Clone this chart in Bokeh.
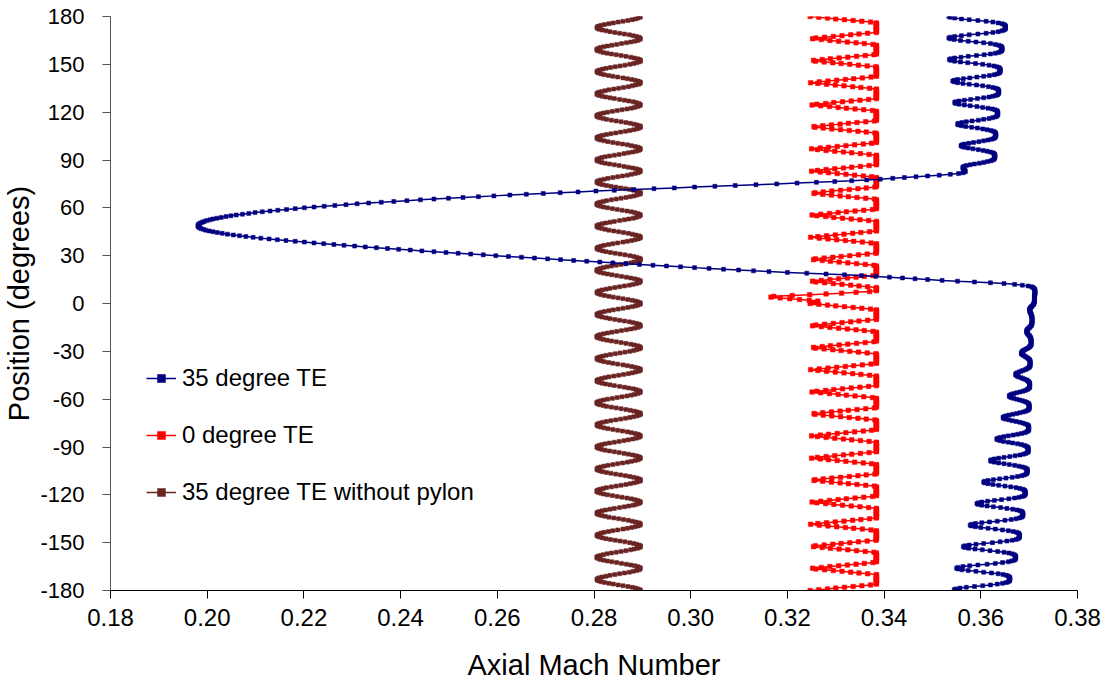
import numpy as np
from bokeh.plotting import figure
from bokeh.models import (ColumnDataSource, FixedTicker, Legend, LegendItem,
                          NumeralTickFormatter, Range1d)
from bokeh.embed import file_html
from bokeh.resources import INLINE

# Circumferential survey stations, every half degree from +180 down to -180
position = np.linspace(180.0, -180.0, 721)

x_ticks = [0.18, 0.20, 0.22, 0.24, 0.26, 0.28, 0.30, 0.32, 0.34, 0.36, 0.38]
y_ticks = [-180, -150, -120, -90, -60, -30, 0, 30, 60, 90, 120, 150, 180]

series_labels = ["35 degree TE", "0 degree TE", "35 degree TE without pylon"]

# 35 degree TE: upper blade-passage ripple (180 .. 85.5 deg)
te35_upper = [
    0.3534, 0.3537, 0.3546, 0.3560, 0.3576, 0.3594, 0.3611, 0.3625, 0.3636, 0.3644, 0.3648, 0.3650, 0.3651, 0.3651, 0.3651, 0.3651, 0.3650, 0.3648, 0.3644, 0.3636, 0.3625, 0.3611, 0.3594, 0.3576, 0.3560, 0.3546, 0.3537,
    0.3534, 0.3537, 0.3545, 0.3558, 0.3574, 0.3590, 0.3606, 0.3620, 0.3630, 0.3637, 0.3641, 0.3643, 0.3644, 0.3644, 0.3644, 0.3644, 0.3643, 0.3641, 0.3637, 0.3630, 0.3620, 0.3607, 0.3591, 0.3574, 0.3559, 0.3546, 0.3538,
    0.3535, 0.3538, 0.3546, 0.3558, 0.3573, 0.3589, 0.3604, 0.3617, 0.3627, 0.3633, 0.3637, 0.3639, 0.3640, 0.3640, 0.3640, 0.3640, 0.3639, 0.3638, 0.3634, 0.3628, 0.3618, 0.3606, 0.3592, 0.3577, 0.3564, 0.3552, 0.3545,
    0.3542, 0.3545, 0.3552, 0.3563, 0.3576, 0.3591, 0.3604, 0.3616, 0.3625, 0.3631, 0.3635, 0.3636, 0.3637, 0.3637, 0.3637, 0.3637, 0.3636, 0.3635, 0.3631, 0.3625, 0.3617, 0.3606, 0.3593, 0.3579, 0.3566, 0.3555, 0.3548,
    0.3546, 0.3548, 0.3555, 0.3566, 0.3578, 0.3592, 0.3604, 0.3615, 0.3624, 0.3629, 0.3633, 0.3634, 0.3635, 0.3635, 0.3635, 0.3635, 0.3634, 0.3633, 0.3630, 0.3624, 0.3617, 0.3606, 0.3595, 0.3582, 0.3570, 0.3561, 0.3554,
    0.3552, 0.3554, 0.3560, 0.3569, 0.3581, 0.3593, 0.3604, 0.3613, 0.3621, 0.3626, 0.3629, 0.3630, 0.3631, 0.3631, 0.3631, 0.3631, 0.3630, 0.3629, 0.3627, 0.3622, 0.3615, 0.3606, 0.3596, 0.3585, 0.3575, 0.3566, 0.3561,
    0.3559, 0.3561, 0.3566, 0.3574, 0.3584, 0.3595, 0.3605, 0.3613, 0.3620, 0.3625, 0.3627, 0.3629, 0.3629, 0.3629, 0.3629, 0.3629, 0.3628, 0.3627, 0.3625, 0.3621, 0.3614, 0.3606, 0.3597, 0.3587, 0.3578, 0.3570, 0.3565,
    0.3563,
]

# 35 degree TE: pylon wake excursion (85 .. 2.5 deg)
te35_wake = [
    0.3563, 0.3564, 0.3565, 0.3567, 0.3568, 0.3567, 0.3563, 0.3554, 0.3537, 0.3514,
    0.3490, 0.3466, 0.3442, 0.3418, 0.3392, 0.3364, 0.3333, 0.3298, 0.3260, 0.3220,
    0.3178, 0.3135, 0.3092, 0.3050, 0.3008, 0.2966, 0.2924, 0.2882, 0.2842, 0.2804,
    0.2767, 0.2730, 0.2695, 0.2660, 0.2626, 0.2593, 0.2561, 0.2529, 0.2499, 0.2469,
    0.2441, 0.2413, 0.2386, 0.2360, 0.2334, 0.2310, 0.2287, 0.2264, 0.2242, 0.2221,
    0.2201, 0.2182, 0.2164, 0.2146, 0.2130, 0.2114, 0.2099, 0.2086, 0.2073, 0.2060,
    0.2049, 0.2039, 0.2029, 0.2020, 0.2012, 0.2006, 0.1999, 0.1994, 0.1990, 0.1986,
    0.1984, 0.1982, 0.1981, 0.1981, 0.1982, 0.1984, 0.1987, 0.1992, 0.1997, 0.2004,
    0.2012, 0.2021, 0.2031, 0.2042, 0.2054, 0.2067, 0.2080, 0.2095, 0.2111, 0.2128,
    0.2145, 0.2163, 0.2182, 0.2201, 0.2221, 0.2241, 0.2262, 0.2283, 0.2305, 0.2327,
    0.2350, 0.2373, 0.2396, 0.2420, 0.2444, 0.2469, 0.2494, 0.2519, 0.2545, 0.2571,
    0.2597, 0.2623, 0.2650, 0.2677, 0.2704, 0.2731, 0.2758, 0.2785, 0.2812, 0.2839,
    0.2866, 0.2894, 0.2922, 0.2950, 0.2979, 0.3008, 0.3038, 0.3068, 0.3099, 0.3130,
    0.3162, 0.3200, 0.3240, 0.3280, 0.3318, 0.3353, 0.3383, 0.3411, 0.3438, 0.3464,
    0.3490, 0.3520, 0.3552, 0.3587, 0.3620, 0.3648, 0.3670, 0.3686, 0.3698, 0.3705,
    0.3708, 0.3710, 0.3711, 0.3712, 0.3712, 0.3712, 0.3712, 0.3712, 0.3712, 0.3712,
    0.3711, 0.3711, 0.3711, 0.3711, 0.3711, 0.3711,
]

# 35 degree TE: lower ripple with growing amplitude (2 .. -180 deg)
te35_lower = [
    0.3711, 0.3711, 0.3711, 0.3710, 0.3710, 0.3709, 0.3708, 0.3706, 0.3705, 0.3703, 0.3702, 0.3701,
    0.3701, 0.3701, 0.3702, 0.3702, 0.3703, 0.3704, 0.3704, 0.3705, 0.3705, 0.3706, 0.3706, 0.3706, 0.3706, 0.3706, 0.3706, 0.3706, 0.3706, 0.3706, 0.3705, 0.3705, 0.3704, 0.3702, 0.3701, 0.3699, 0.3697, 0.3696, 0.3695,
    0.3695, 0.3695, 0.3696, 0.3697, 0.3698, 0.3700, 0.3701, 0.3702, 0.3703, 0.3703, 0.3704, 0.3704, 0.3704, 0.3704, 0.3704, 0.3704, 0.3704, 0.3704, 0.3703, 0.3701, 0.3700, 0.3697, 0.3694, 0.3691, 0.3688, 0.3686, 0.3685,
    0.3684, 0.3684, 0.3686, 0.3688, 0.3691, 0.3693, 0.3696, 0.3698, 0.3700, 0.3701, 0.3702, 0.3702, 0.3702, 0.3702, 0.3702, 0.3702, 0.3702, 0.3701, 0.3700, 0.3698, 0.3695, 0.3692, 0.3687, 0.3683, 0.3679, 0.3675, 0.3673,
    0.3672, 0.3673, 0.3675, 0.3678, 0.3683, 0.3687, 0.3691, 0.3695, 0.3697, 0.3699, 0.3700, 0.3701, 0.3701, 0.3701, 0.3701, 0.3701, 0.3701, 0.3700, 0.3698, 0.3696, 0.3692, 0.3687, 0.3681, 0.3674, 0.3668, 0.3663, 0.3660,
    0.3659, 0.3660, 0.3663, 0.3668, 0.3674, 0.3680, 0.3686, 0.3691, 0.3695, 0.3698, 0.3699, 0.3700, 0.3700, 0.3700, 0.3700, 0.3700, 0.3700, 0.3699, 0.3697, 0.3693, 0.3688, 0.3681, 0.3674, 0.3666, 0.3658, 0.3652, 0.3648,
    0.3646, 0.3647, 0.3651, 0.3658, 0.3665, 0.3673, 0.3681, 0.3687, 0.3692, 0.3696, 0.3698, 0.3699, 0.3699, 0.3699, 0.3699, 0.3699, 0.3699, 0.3697, 0.3695, 0.3691, 0.3684, 0.3676, 0.3667, 0.3657, 0.3648, 0.3640, 0.3635,
    0.3633, 0.3635, 0.3640, 0.3647, 0.3657, 0.3666, 0.3676, 0.3684, 0.3690, 0.3694, 0.3696, 0.3698, 0.3698, 0.3698, 0.3698, 0.3698, 0.3698, 0.3696, 0.3693, 0.3688, 0.3681, 0.3671, 0.3660, 0.3648, 0.3637, 0.3628, 0.3622,
    0.3620, 0.3622, 0.3628, 0.3637, 0.3648, 0.3659, 0.3670, 0.3679, 0.3686, 0.3691, 0.3694, 0.3696, 0.3696, 0.3696, 0.3696, 0.3696, 0.3695, 0.3694, 0.3690, 0.3685, 0.3676, 0.3665, 0.3652, 0.3639, 0.3626, 0.3615, 0.3608,
    0.3606, 0.3608, 0.3615, 0.3625, 0.3637, 0.3650, 0.3662, 0.3673, 0.3681, 0.3687, 0.3690, 0.3691, 0.3692, 0.3692, 0.3692, 0.3692, 0.3691, 0.3690, 0.3686, 0.3679, 0.3670, 0.3658, 0.3643, 0.3628, 0.3614, 0.3602, 0.3595,
    0.3592, 0.3595, 0.3602, 0.3613, 0.3626, 0.3641, 0.3654, 0.3666, 0.3675, 0.3681, 0.3685, 0.3686, 0.3687, 0.3687, 0.3687, 0.3687, 0.3686, 0.3684, 0.3680, 0.3673, 0.3663, 0.3650, 0.3634, 0.3618, 0.3602, 0.3589, 0.3581,
    0.3578, 0.3581, 0.3589, 0.3600, 0.3615, 0.3630, 0.3645, 0.3657, 0.3667, 0.3674, 0.3678, 0.3679, 0.3680, 0.3680, 0.3680, 0.3680, 0.3679, 0.3677, 0.3673, 0.3665, 0.3654, 0.3640, 0.3624, 0.3606, 0.3590, 0.3576, 0.3567,
    0.3564, 0.3567, 0.3575, 0.3588, 0.3603, 0.3619, 0.3635, 0.3648, 0.3658, 0.3665, 0.3669, 0.3671, 0.3672, 0.3672, 0.3672, 0.3672, 0.3671, 0.3669, 0.3664, 0.3657, 0.3645, 0.3630, 0.3613, 0.3594, 0.3577, 0.3563, 0.3553,
    0.3550, 0.3553, 0.3561, 0.3574, 0.3590, 0.3606, 0.3622, 0.3636, 0.3646, 0.3653, 0.3657, 0.3659, 0.3660, 0.3660, 0.3660, 0.3660, 0.3659, 0.3657, 0.3653, 0.3645, 0.3634, 0.3620, 0.3604, 0.3587, 0.3570, 0.3557, 0.3548,
    0.3545, 0.3548,
]

mach_35_te = te35_upper + te35_wake + te35_lower

mach_0_te = [
    0.3247, 0.3265, 0.3283, 0.3300, 0.3318, 0.3336, 0.3354, 0.3372, 0.3384, 0.3384, 0.3384, 0.3384, 0.3384, 0.3384, 0.3384, 0.3384, 0.3384, 0.3384, 0.3384, 0.3384, 0.3384, 0.3366, 0.3348, 0.3331, 0.3313, 0.3295, 0.3277, 0.3259,
    0.3252, 0.3270, 0.3288, 0.3306, 0.3324, 0.3342, 0.3359, 0.3377, 0.3384, 0.3384, 0.3384, 0.3384, 0.3384, 0.3384, 0.3384, 0.3384, 0.3384, 0.3384, 0.3384, 0.3384, 0.3379, 0.3361, 0.3343, 0.3325, 0.3307, 0.3289, 0.3272, 0.3254,
    0.3258, 0.3276, 0.3294, 0.3311, 0.3329, 0.3347, 0.3365, 0.3383, 0.3384, 0.3384, 0.3384, 0.3384, 0.3384, 0.3384, 0.3384, 0.3384, 0.3384, 0.3384, 0.3384, 0.3384, 0.3373, 0.3355, 0.3337, 0.3320, 0.3302, 0.3284, 0.3266, 0.3248,
    0.3263, 0.3281, 0.3299, 0.3317, 0.3335, 0.3352, 0.3370, 0.3384, 0.3384, 0.3384, 0.3384, 0.3384, 0.3384, 0.3384, 0.3384, 0.3384, 0.3384, 0.3384, 0.3384, 0.3384, 0.3368, 0.3350, 0.3332, 0.3314, 0.3296, 0.3279, 0.3261,
    0.3251, 0.3269, 0.3287, 0.3305, 0.3322, 0.3340, 0.3358, 0.3376, 0.3384, 0.3384, 0.3384, 0.3384, 0.3384, 0.3384, 0.3384, 0.3384, 0.3384, 0.3384, 0.3384, 0.3384, 0.3380, 0.3362, 0.3344, 0.3326, 0.3309, 0.3291, 0.3273, 0.3255,
    0.3257, 0.3274, 0.3292, 0.3310, 0.3328, 0.3346, 0.3363, 0.3381, 0.3384, 0.3384, 0.3384, 0.3384, 0.3384, 0.3384, 0.3384, 0.3384, 0.3384, 0.3384, 0.3384, 0.3384, 0.3374, 0.3357, 0.3339, 0.3321, 0.3303, 0.3285, 0.3268, 0.3250,
    0.3262, 0.3280, 0.3298, 0.3316, 0.3333, 0.3351, 0.3369, 0.3384, 0.3384, 0.3384, 0.3384, 0.3384, 0.3384, 0.3384, 0.3384, 0.3384, 0.3384, 0.3384, 0.3384, 0.3384, 0.3369, 0.3351, 0.3333, 0.3316, 0.3298, 0.3280, 0.3262,
    0.3250, 0.3268, 0.3285, 0.3303, 0.3321, 0.3339, 0.3357, 0.3374, 0.3384, 0.3384, 0.3384, 0.3384, 0.3384, 0.3384, 0.3384, 0.3384, 0.3384, 0.3384, 0.3384, 0.3384, 0.3381, 0.3363, 0.3346, 0.3328, 0.3310, 0.3292, 0.3274, 0.3257,
    0.3255, 0.3273, 0.3291, 0.3309, 0.3326, 0.3344, 0.3362, 0.3380, 0.3384, 0.3384, 0.3384, 0.3384, 0.3384, 0.3384, 0.3384, 0.3384, 0.3384, 0.3384, 0.3384, 0.3384, 0.3376, 0.3358, 0.3340, 0.3322, 0.3305, 0.3287, 0.3269, 0.3251,
    0.3261, 0.3279, 0.3296, 0.3314, 0.3332, 0.3350, 0.3368, 0.3384, 0.3384, 0.3384, 0.3384, 0.3384, 0.3384, 0.3384, 0.3384, 0.3384, 0.3384, 0.3384, 0.3384, 0.3384, 0.3370, 0.3352, 0.3335, 0.3317, 0.3299, 0.3281, 0.3263,
    0.3248, 0.3266, 0.3284, 0.3302, 0.3320, 0.3337, 0.3355, 0.3373, 0.3384, 0.3384, 0.3384, 0.3384, 0.3384, 0.3384, 0.3384, 0.3384, 0.3384, 0.3384, 0.3384, 0.3384, 0.3383, 0.3365, 0.3347, 0.3329, 0.3311, 0.3294, 0.3276, 0.3258,
    0.3254, 0.3272, 0.3289, 0.3307, 0.3325, 0.3343, 0.3361, 0.3379, 0.3384, 0.3384, 0.3384, 0.3384, 0.3384, 0.3384, 0.3384, 0.3384, 0.3384, 0.3384, 0.3384, 0.3384, 0.3377, 0.3359, 0.3342, 0.3324, 0.3306, 0.3288, 0.3270, 0.3252,
    0.3259, 0.3277, 0.3295, 0.3313, 0.3331, 0.3348, 0.3366, 0.3384, 0.3384, 0.3384, 0.3384, 0.3384, 0.3370, 0.3342, 0.3312, 0.3280, 0.3246, 0.3210, 0.3172, 0.3166, 0.3185, 0.3205, 0.3225, 0.3245, 0.3263, 0.3262, 0.3255,
    0.3247, 0.3265, 0.3283, 0.3300, 0.3318, 0.3336, 0.3354, 0.3372, 0.3384, 0.3384, 0.3384, 0.3384, 0.3384, 0.3384, 0.3384, 0.3384, 0.3384, 0.3384, 0.3384, 0.3384, 0.3384, 0.3366, 0.3348, 0.3331, 0.3313, 0.3295, 0.3277, 0.3259,
    0.3252, 0.3270, 0.3288, 0.3306, 0.3324, 0.3342, 0.3359, 0.3377, 0.3384, 0.3384, 0.3384, 0.3384, 0.3384, 0.3384, 0.3384, 0.3384, 0.3384, 0.3384, 0.3384, 0.3384, 0.3379, 0.3361, 0.3343, 0.3325, 0.3307, 0.3289, 0.3272, 0.3254,
    0.3258, 0.3276, 0.3294, 0.3311, 0.3329, 0.3347, 0.3365, 0.3383, 0.3384, 0.3384, 0.3384, 0.3384, 0.3384, 0.3384, 0.3384, 0.3384, 0.3384, 0.3384, 0.3384, 0.3384, 0.3373, 0.3355, 0.3337, 0.3320, 0.3302, 0.3284, 0.3266, 0.3248,
    0.3263, 0.3281, 0.3299, 0.3317, 0.3335, 0.3352, 0.3370, 0.3384, 0.3384, 0.3384, 0.3384, 0.3384, 0.3384, 0.3384, 0.3384, 0.3384, 0.3384, 0.3384, 0.3384, 0.3384, 0.3368, 0.3350, 0.3332, 0.3314, 0.3296, 0.3279, 0.3261,
    0.3251, 0.3269, 0.3287, 0.3305, 0.3322, 0.3340, 0.3358, 0.3376, 0.3384, 0.3384, 0.3384, 0.3384, 0.3384, 0.3384, 0.3384, 0.3384, 0.3384, 0.3384, 0.3384, 0.3384, 0.3380, 0.3362, 0.3344, 0.3326, 0.3309, 0.3291, 0.3273, 0.3255,
    0.3257, 0.3274, 0.3292, 0.3310, 0.3328, 0.3346, 0.3363, 0.3381, 0.3384, 0.3384, 0.3384, 0.3384, 0.3384, 0.3384, 0.3384, 0.3384, 0.3384, 0.3384, 0.3384, 0.3384, 0.3374, 0.3357, 0.3339, 0.3321, 0.3303, 0.3285, 0.3268, 0.3250,
    0.3262, 0.3280, 0.3298, 0.3316, 0.3333, 0.3351, 0.3369, 0.3384, 0.3384, 0.3384, 0.3384, 0.3384, 0.3384, 0.3384, 0.3384, 0.3384, 0.3384, 0.3384, 0.3384, 0.3384, 0.3369, 0.3351, 0.3333, 0.3316, 0.3298, 0.3280, 0.3262,
    0.3250, 0.3268, 0.3285, 0.3303, 0.3321, 0.3339, 0.3357, 0.3374, 0.3384, 0.3384, 0.3384, 0.3384, 0.3384, 0.3384, 0.3384, 0.3384, 0.3384, 0.3384, 0.3384, 0.3384, 0.3381, 0.3363, 0.3346, 0.3328, 0.3310, 0.3292, 0.3274, 0.3257,
    0.3255, 0.3273, 0.3291, 0.3309, 0.3326, 0.3344, 0.3362, 0.3380, 0.3384, 0.3384, 0.3384, 0.3384, 0.3384, 0.3384, 0.3384, 0.3384, 0.3384, 0.3384, 0.3384, 0.3384, 0.3376, 0.3358, 0.3340, 0.3322, 0.3305, 0.3287, 0.3269, 0.3251,
    0.3261, 0.3279, 0.3296, 0.3314, 0.3332, 0.3350, 0.3368, 0.3384, 0.3384, 0.3384, 0.3384, 0.3384, 0.3384, 0.3384, 0.3384, 0.3384, 0.3384, 0.3384, 0.3384, 0.3384, 0.3370, 0.3352, 0.3335, 0.3317, 0.3299, 0.3281, 0.3263,
    0.3248, 0.3266, 0.3284, 0.3302, 0.3320, 0.3337, 0.3355, 0.3373, 0.3384, 0.3384, 0.3384, 0.3384, 0.3384, 0.3384, 0.3384, 0.3384, 0.3384, 0.3384, 0.3384, 0.3384, 0.3383, 0.3365, 0.3347, 0.3329, 0.3311, 0.3294, 0.3276, 0.3258,
    0.3254, 0.3272, 0.3289, 0.3307, 0.3325, 0.3343, 0.3361, 0.3379, 0.3384, 0.3384, 0.3384, 0.3384, 0.3384, 0.3384, 0.3384, 0.3384, 0.3384, 0.3384, 0.3384, 0.3384, 0.3377, 0.3359, 0.3342, 0.3324, 0.3306, 0.3288, 0.3270, 0.3252,
    0.3259, 0.3277, 0.3295, 0.3313, 0.3331, 0.3348, 0.3366, 0.3384, 0.3384, 0.3384, 0.3384, 0.3384, 0.3384, 0.3384, 0.3384, 0.3384, 0.3384, 0.3384, 0.3384, 0.3384, 0.3372, 0.3354, 0.3336, 0.3318, 0.3300, 0.3283, 0.3265,
    0.3247,
]

mach_35_te_no_pylon = [
    0.2896, 0.2895, 0.2891, 0.2886, 0.2879, 0.2870, 0.2860, 0.2850, 0.2840, 0.2831, 0.2822, 0.2815, 0.2810, 0.2807, 0.2806, 0.2808, 0.2811, 0.2817, 0.2825, 0.2833, 0.2843, 0.2853, 0.2863, 0.2873, 0.2881, 0.2888, 0.2893, 0.2895,
    0.2896, 0.2894, 0.2890, 0.2884, 0.2876, 0.2867, 0.2857, 0.2847, 0.2837, 0.2828, 0.2820, 0.2813, 0.2809, 0.2806, 0.2806, 0.2808, 0.2813, 0.2819, 0.2827, 0.2836, 0.2846, 0.2856, 0.2866, 0.2876, 0.2883, 0.2890, 0.2894, 0.2896,
    0.2896, 0.2893, 0.2888, 0.2882, 0.2874, 0.2864, 0.2854, 0.2844, 0.2834, 0.2825, 0.2818, 0.2812, 0.2808, 0.2806, 0.2807, 0.2810, 0.2815, 0.2821, 0.2830, 0.2839, 0.2849, 0.2860, 0.2869, 0.2878, 0.2885, 0.2891, 0.2895, 0.2896,
    0.2895, 0.2892, 0.2886, 0.2879, 0.2871, 0.2861, 0.2851, 0.2841, 0.2831, 0.2823, 0.2816, 0.2810, 0.2807, 0.2806, 0.2807, 0.2811, 0.2817, 0.2824, 0.2833, 0.2842, 0.2853, 0.2863, 0.2872, 0.2881, 0.2887, 0.2892, 0.2895,
    0.2896, 0.2894, 0.2890, 0.2884, 0.2877, 0.2868, 0.2858, 0.2848, 0.2838, 0.2828, 0.2820, 0.2814, 0.2809, 0.2806, 0.2806, 0.2808, 0.2812, 0.2819, 0.2826, 0.2836, 0.2846, 0.2856, 0.2866, 0.2875, 0.2883, 0.2889, 0.2894, 0.2896,
    0.2896, 0.2893, 0.2889, 0.2882, 0.2874, 0.2865, 0.2855, 0.2845, 0.2835, 0.2826, 0.2818, 0.2812, 0.2808, 0.2806, 0.2807, 0.2809, 0.2814, 0.2821, 0.2829, 0.2839, 0.2849, 0.2859, 0.2869, 0.2877, 0.2885, 0.2891, 0.2894, 0.2896,
    0.2895, 0.2892, 0.2887, 0.2880, 0.2871, 0.2862, 0.2852, 0.2842, 0.2832, 0.2823, 0.2816, 0.2811, 0.2807, 0.2806, 0.2807, 0.2811, 0.2816, 0.2823, 0.2832, 0.2842, 0.2852, 0.2862, 0.2871, 0.2880, 0.2887, 0.2892, 0.2895,
    0.2896, 0.2894, 0.2891, 0.2885, 0.2877, 0.2869, 0.2859, 0.2849, 0.2839, 0.2829, 0.2821, 0.2814, 0.2809, 0.2807, 0.2806, 0.2808, 0.2812, 0.2818, 0.2826, 0.2835, 0.2845, 0.2855, 0.2865, 0.2874, 0.2882, 0.2889, 0.2893, 0.2896,
    0.2896, 0.2894, 0.2889, 0.2883, 0.2875, 0.2866, 0.2856, 0.2846, 0.2836, 0.2826, 0.2819, 0.2812, 0.2808, 0.2806, 0.2806, 0.2809, 0.2814, 0.2820, 0.2828, 0.2838, 0.2848, 0.2858, 0.2868, 0.2877, 0.2884, 0.2890, 0.2894, 0.2896,
    0.2895, 0.2892, 0.2887, 0.2881, 0.2872, 0.2863, 0.2853, 0.2842, 0.2833, 0.2824, 0.2817, 0.2811, 0.2807, 0.2806, 0.2807, 0.2810, 0.2816, 0.2823, 0.2831, 0.2841, 0.2851, 0.2861, 0.2871, 0.2879, 0.2886, 0.2892, 0.2895,
    0.2896, 0.2895, 0.2891, 0.2885, 0.2878, 0.2869, 0.2860, 0.2849, 0.2839, 0.2830, 0.2821, 0.2815, 0.2810, 0.2807, 0.2806, 0.2808, 0.2812, 0.2818, 0.2825, 0.2834, 0.2844, 0.2854, 0.2864, 0.2874, 0.2882, 0.2888, 0.2893, 0.2896,
    0.2896, 0.2894, 0.2890, 0.2883, 0.2876, 0.2866, 0.2856, 0.2846, 0.2836, 0.2827, 0.2819, 0.2813, 0.2808, 0.2806, 0.2806, 0.2809, 0.2813, 0.2820, 0.2828, 0.2837, 0.2847, 0.2857, 0.2867, 0.2876, 0.2884, 0.2890, 0.2894, 0.2896,
    0.2895, 0.2893, 0.2888, 0.2881, 0.2873, 0.2863, 0.2853, 0.2843, 0.2833, 0.2825, 0.2817, 0.2811, 0.2808, 0.2806, 0.2807, 0.2810, 0.2815, 0.2822, 0.2831, 0.2840, 0.2850, 0.2860, 0.2870, 0.2879, 0.2886, 0.2891, 0.2895,
    0.2896, 0.2895, 0.2891, 0.2886, 0.2879, 0.2870, 0.2860, 0.2850, 0.2840, 0.2831, 0.2822, 0.2815, 0.2810, 0.2807, 0.2806, 0.2808, 0.2811, 0.2817, 0.2825, 0.2833, 0.2843, 0.2853, 0.2863, 0.2873, 0.2881, 0.2888, 0.2893, 0.2895,
    0.2896, 0.2894, 0.2890, 0.2884, 0.2876, 0.2867, 0.2857, 0.2847, 0.2837, 0.2828, 0.2820, 0.2813, 0.2809, 0.2806, 0.2806, 0.2808, 0.2813, 0.2819, 0.2827, 0.2836, 0.2846, 0.2856, 0.2866, 0.2876, 0.2883, 0.2890, 0.2894, 0.2896,
    0.2896, 0.2893, 0.2888, 0.2882, 0.2874, 0.2864, 0.2854, 0.2844, 0.2834, 0.2825, 0.2818, 0.2812, 0.2808, 0.2806, 0.2807, 0.2810, 0.2815, 0.2821, 0.2830, 0.2839, 0.2849, 0.2860, 0.2869, 0.2878, 0.2885, 0.2891, 0.2895, 0.2896,
    0.2895, 0.2892, 0.2886, 0.2879, 0.2871, 0.2861, 0.2851, 0.2841, 0.2831, 0.2823, 0.2816, 0.2810, 0.2807, 0.2806, 0.2807, 0.2811, 0.2817, 0.2824, 0.2833, 0.2842, 0.2853, 0.2863, 0.2872, 0.2881, 0.2887, 0.2892, 0.2895,
    0.2896, 0.2894, 0.2890, 0.2884, 0.2877, 0.2868, 0.2858, 0.2848, 0.2838, 0.2828, 0.2820, 0.2814, 0.2809, 0.2806, 0.2806, 0.2808, 0.2812, 0.2819, 0.2826, 0.2836, 0.2846, 0.2856, 0.2866, 0.2875, 0.2883, 0.2889, 0.2894, 0.2896,
    0.2896, 0.2893, 0.2889, 0.2882, 0.2874, 0.2865, 0.2855, 0.2845, 0.2835, 0.2826, 0.2818, 0.2812, 0.2808, 0.2806, 0.2807, 0.2809, 0.2814, 0.2821, 0.2829, 0.2839, 0.2849, 0.2859, 0.2869, 0.2877, 0.2885, 0.2891, 0.2894, 0.2896,
    0.2895, 0.2892, 0.2887, 0.2880, 0.2871, 0.2862, 0.2852, 0.2842, 0.2832, 0.2823, 0.2816, 0.2811, 0.2807, 0.2806, 0.2807, 0.2811, 0.2816, 0.2823, 0.2832, 0.2842, 0.2852, 0.2862, 0.2871, 0.2880, 0.2887, 0.2892, 0.2895,
    0.2896, 0.2894, 0.2891, 0.2885, 0.2877, 0.2869, 0.2859, 0.2849, 0.2839, 0.2829, 0.2821, 0.2814, 0.2809, 0.2807, 0.2806, 0.2808, 0.2812, 0.2818, 0.2826, 0.2835, 0.2845, 0.2855, 0.2865, 0.2874, 0.2882, 0.2889, 0.2893, 0.2896,
    0.2896, 0.2894, 0.2889, 0.2883, 0.2875, 0.2866, 0.2856, 0.2846, 0.2836, 0.2826, 0.2819, 0.2812, 0.2808, 0.2806, 0.2806, 0.2809, 0.2814, 0.2820, 0.2828, 0.2838, 0.2848, 0.2858, 0.2868, 0.2877, 0.2884, 0.2890, 0.2894, 0.2896,
    0.2895, 0.2892, 0.2887, 0.2881, 0.2872, 0.2863, 0.2853, 0.2842, 0.2833, 0.2824, 0.2817, 0.2811, 0.2807, 0.2806, 0.2807, 0.2810, 0.2816, 0.2823, 0.2831, 0.2841, 0.2851, 0.2861, 0.2871, 0.2879, 0.2886, 0.2892, 0.2895,
    0.2896, 0.2895, 0.2891, 0.2885, 0.2878, 0.2869, 0.2860, 0.2849, 0.2839, 0.2830, 0.2821, 0.2815, 0.2810, 0.2807, 0.2806, 0.2808, 0.2812, 0.2818, 0.2825, 0.2834, 0.2844, 0.2854, 0.2864, 0.2874, 0.2882, 0.2888, 0.2893, 0.2896,
    0.2896, 0.2894, 0.2890, 0.2883, 0.2876, 0.2866, 0.2856, 0.2846, 0.2836, 0.2827, 0.2819, 0.2813, 0.2808, 0.2806, 0.2806, 0.2809, 0.2813, 0.2820, 0.2828, 0.2837, 0.2847, 0.2857, 0.2867, 0.2876, 0.2884, 0.2890, 0.2894, 0.2896,
    0.2895, 0.2893, 0.2888, 0.2881, 0.2873, 0.2863, 0.2853, 0.2843, 0.2833, 0.2825, 0.2817, 0.2811, 0.2808, 0.2806, 0.2807, 0.2810, 0.2815, 0.2822, 0.2831, 0.2840, 0.2850, 0.2860, 0.2870, 0.2879, 0.2886, 0.2891, 0.2895,
    0.2896,
]

for name, vals in (("35 TE", mach_35_te), ("0 TE", mach_0_te), ("no pylon", mach_35_te_no_pylon)):
    assert len(vals) == len(position), f"{name}: {len(vals)} values"

FONT = "Liberation Sans"
colors = ["#000080", "#FF0000", "#6B2424"]
marker_sizes = [4, 4.5, 4]

p = figure(width=1110, height=688, output_backend="svg", toolbar_location=None,
           x_range=Range1d(0.18, 0.38), y_range=Range1d(-180, 180),
           min_border_left=108, min_border_right=33, min_border_top=16, min_border_bottom=98)
p.outline_line_color = None
p.grid.visible = False
p.background_fill_color = "white"
p.border_fill_color = "white"

# draw the curves; the 35 degree TE curve goes on top
data = [mach_35_te, mach_0_te, mach_35_te_no_pylon]
renderers = {}
for idx in (2, 1, 0):
    src = ColumnDataSource(dict(x=data[idx], y=position))
    ln = p.line("x", "y", source=src, line_color=colors[idx], line_width=1.5)
    sc = p.scatter("x", "y", source=src, marker="square", size=marker_sizes[idx],
                   fill_color=colors[idx], line_color=colors[idx], line_width=0.5)
    renderers[idx] = [ln, sc]

items = [LegendItem(label=series_labels[i], renderers=renderers[i]) for i in range(3)]
legend = Legend(items=items, location=(36, 84), orientation="vertical",
                padding=0, margin=0, spacing=29, label_height=24, glyph_height=20,
                glyph_width=30, label_standoff=6,
                label_text_font=FONT, label_text_font_size="24px", label_text_color="black",
                border_line_alpha=0, background_fill_alpha=0)
p.add_layout(legend)

xa = p.xaxis[0]
xa.ticker = FixedTicker(ticks=x_ticks)
xa.formatter = NumeralTickFormatter(format="0.00")
xa.axis_label = "Axial Mach Number"
ya = p.yaxis[0]
ya.ticker = FixedTicker(ticks=y_ticks)
ya.formatter = NumeralTickFormatter(format="0")
ya.axis_label = "Position (degrees)"

for ax in (xa, ya):
    ax.major_label_text_font = FONT
    ax.major_label_text_color = "black"
    ax.axis_label_text_font = FONT
    ax.axis_label_text_font_size = "29px"
    ax.axis_label_text_font_style = "normal"
    ax.axis_label_text_color = "black"
    ax.major_tick_out = 8
    ax.major_tick_in = 0
    ax.minor_tick_out = 0
    ax.minor_tick_in = 0
    ax.axis_line_color = "black"
    ax.major_tick_line_color = "black"

xa.major_label_text_font_size = "24px"
ya.major_label_text_font_size = "22px"
xa.major_label_standoff = 10
xa.axis_label_standoff = 20
ya.major_label_standoff = 18
ya.axis_label_standoff = 2
ya.axis_line_color = "#555555"
ya.major_tick_line_color = "#555555"

open("out.html", "w").write(file_html(p, INLINE))
